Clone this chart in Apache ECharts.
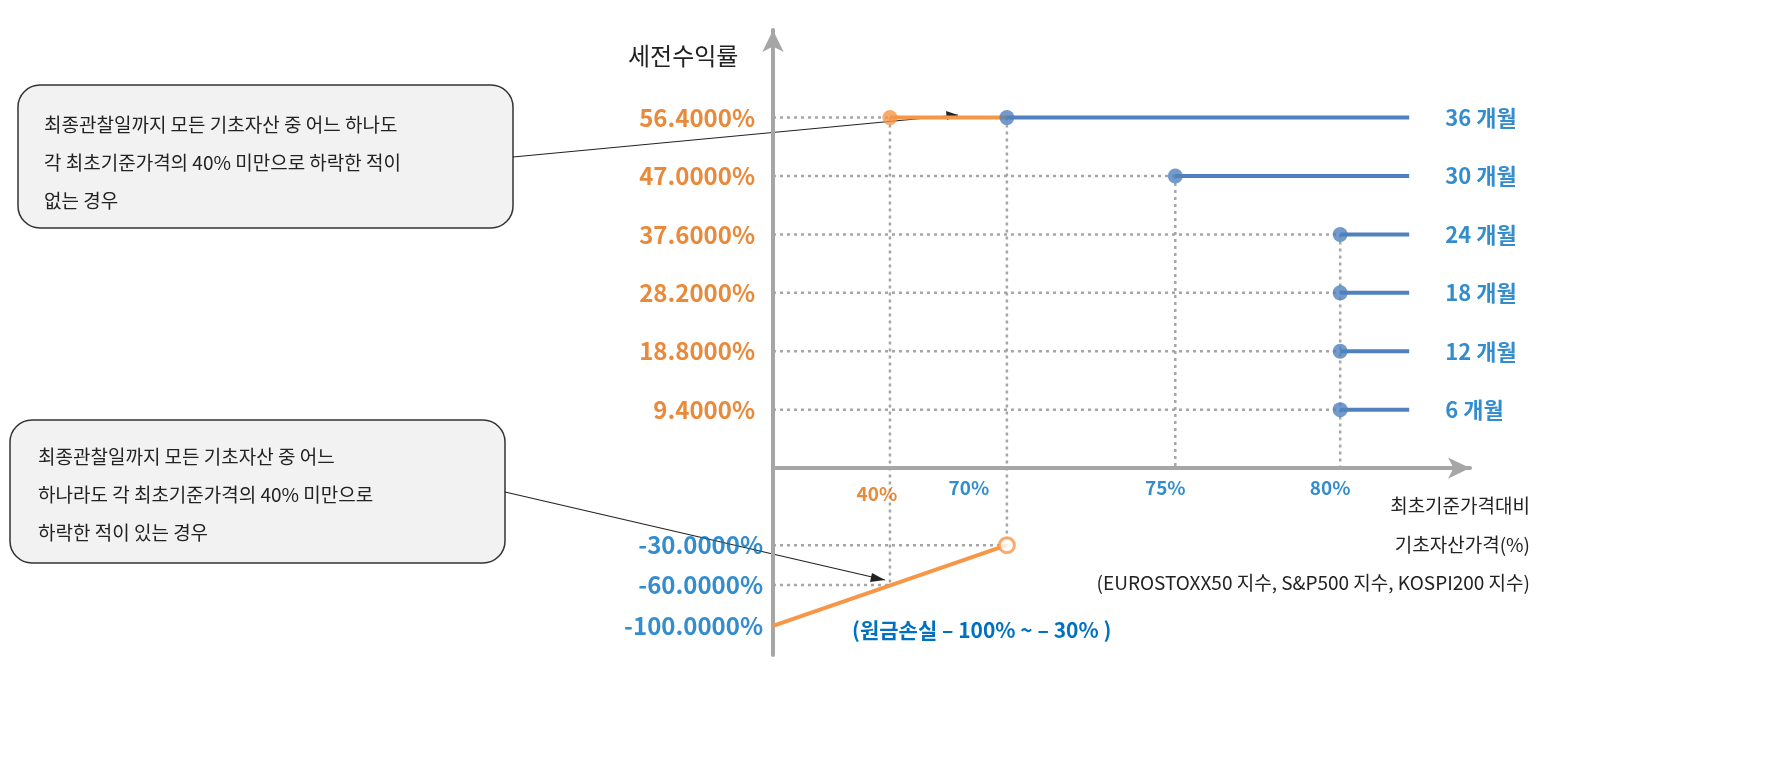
<!DOCTYPE html>
<html><head><meta charset="utf-8">
<script src="https://cdn.jsdelivr.net/npm/echarts@6/dist/echarts.min.js"></script>
<style>html,body{margin:0;background:#fff}#c{width:1774px;height:770px}</style>
</head><body><div id="c"></div>
<script>
const periods=['6 개월','12 개월','18 개월','24 개월','30 개월','36 개월'];
const returns=[9.4,18.8,28.2,37.6,47.0,56.4];
const barriers=['80%','80%','80%','80%','75%','70%'];
const xLabels=['40%','70%','75%','80%'];
const xLabelColors=['#E36C09','#0070C0','#0070C0','#0070C0'];
const xPos=[1,2,3.44,4.85];
const xEnd=5.44;
const lossValues=[-30,-60,-100];
const lossPos=[-1.32,-2.0,-2.7];
const ORANGE='#E36C09', ORANGE2='#F79646', BLUE='#4F81BD', TBLUE='#0070C0', GRAY='#a6a6a6';
const F='"Noto Sans CJK KR","Noto Sans",sans-serif';
const px=l=>xPos[xLabels.indexOf(l)];
const series=[];
const dotted=(data)=>({type:'line',data,symbol:'none',silent:true,lineStyle:{color:GRAY,width:2.5,type:[3,4]},z:1});
const drawnVert={};
returns.forEach((v,i)=>{
  const y=i+1, bx=px(barriers[i]);
  series.push(dotted([[0,y],[bx,y]]));
  if(barriers[i]!=='70%'){
    // one vertical dotted line per barrier, from its highest level down to the axis
    const top=Math.max(...returns.map((r,j)=>barriers[j]===barriers[i]?j+1:0));
    if(!drawnVert[barriers[i]]){drawnVert[barriers[i]]=1;series.push(dotted([[bx,top],[bx,0]]));}
  }
  series.push({type:'line',data:[[bx,y],[xEnd,y]],symbol:'none',lineStyle:{color:BLUE,width:4},z:3});
  series.push({type:'scatter',data:[[bx,y]],symbolSize:15,itemStyle:{color:BLUE},z:5});
  series.push({type:'scatter',data:[[xEnd,y]],symbolSize:0,z:6,label:{show:true,position:'right',distance:36,formatter:periods[i],color:TBLUE,fontSize:22,fontWeight:'bold',fontFamily:F}});
  series.push({type:'scatter',data:[[0,y]],symbolSize:0,z:6,label:{show:true,position:'left',distance:18,formatter:v.toFixed(4)+'%',color:ORANGE,fontSize:24,fontWeight:'bold',fontFamily:F}});
});
series.push(dotted([[px('40%'),6],[px('40%'),lossPos[1]]]));
series.push(dotted([[px('70%'),6],[px('70%'),lossPos[0]]]));
series.push(dotted([[0,lossPos[0]],[px('70%'),lossPos[0]]]));
series.push(dotted([[0,lossPos[1]],[px('40%'),lossPos[1]]]));
series.push({type:'line',data:[[px('40%'),6],[px('70%'),6]],symbol:'none',lineStyle:{color:ORANGE2,width:4},z:3});
series.push({type:'scatter',data:[[px('40%'),6]],symbolSize:15,itemStyle:{color:ORANGE2},z:5});
series.push({type:'line',data:[[0,lossPos[2]],[px('70%'),lossPos[0]]],symbol:'none',lineStyle:{color:ORANGE2,width:4},z:3});
series.push({type:'scatter',data:[[px('70%'),lossPos[0]]],symbol:'circle',symbolSize:15,itemStyle:{color:'#fff',borderColor:ORANGE2,borderWidth:3},z:5});
lossValues.forEach((v,i)=>{
  series.push({type:'scatter',data:[[0,lossPos[i]]],symbolSize:0,z:6,label:{show:true,position:'left',distance:10,formatter:v.toFixed(4)+'%',color:TBLUE,fontSize:24,fontWeight:'bold',fontFamily:F}});
});
xLabels.forEach((l,i)=>{
  series.push({type:'scatter',data:[[xPos[i],0]],symbolSize:0,z:6,label:{show:true,position:'bottom',distance:i===0?16:10,offset:[i===0?-13:(i===1?-38:-10),0],formatter:l,color:xLabelColors[i],fontSize:19,fontWeight:'bold',fontFamily:F}});
});
const chart=echarts.init(document.getElementById('c'));
chart.setOption({
  animation:false,
  grid:{left:773,right:304,top:30,height:625},
  xAxis:{type:'value',min:0,max:5.96,axisLine:{onZero:true,lineStyle:{color:GRAY,width:4},symbol:['none','arrow'],symbolSize:[16,22]},axisTick:{show:false},axisLabel:{show:false},splitLine:{show:false}},
  yAxis:{type:'value',min:-3.2,max:7.5,axisLine:{show:true,lineStyle:{color:GRAY,width:4},symbol:['none','arrow'],symbolSize:[16,22]},axisTick:{show:false},axisLabel:{show:false},splitLine:{show:false}},
  series,
  graphic:[
    {type:'text',left:628,top:44,style:{text:'세전수익률',font:'24px '+F,fill:'#222'}},
    {type:'text',right:244,top:496,style:{text:'최초기준가격대비',font:'19px '+F,fill:'#222',align:'right'}},
    {type:'text',right:244,top:535,style:{text:'기초자산가격(%)',font:'19px '+F,fill:'#222'}},
    {type:'text',right:244,top:573,style:{text:'(EUROSTOXX50 지수, S&P500 지수, KOSPI200 지수)',font:'19px '+F,fill:'#222'}},
    {type:'text',left:852,top:620,style:{text:'(원금손실 – 100% ~ – 30% )',font:'bold 21px '+F,fill:TBLUE}},
    {type:'rect',shape:{x:18,y:85,width:495,height:143,r:22},style:{fill:'#f2f2f2',stroke:'#333',lineWidth:1.5}},
    {type:'text',left:44,top:106,style:{text:'최종관찰일까지 모든 기초자산 중 어느 하나도\n각 최초기준가격의 40% 미만으로 하락한 적이\n없는 경우',font:'19px '+F,fill:'#222',lineHeight:38}},
    {type:'rect',shape:{x:10,y:420,width:495,height:143,r:22},style:{fill:'#f2f2f2',stroke:'#333',lineWidth:1.5}},
    {type:'text',left:38,top:438,style:{text:'최종관찰일까지 모든 기초자산 중 어느\n하나라도 각 최초기준가격의 40% 미만으로\n하락한 적이 있는 경우',font:'19px '+F,fill:'#222',lineHeight:38}},
    {type:'line',shape:{x1:513,y1:157,x2:958,y2:115},style:{stroke:'#222',lineWidth:1.2}},
    {type:'polygon',shape:{points:[[958,115],[946,111],[947,120]]},style:{fill:'#222'}},
    {type:'line',shape:{x1:505,y1:492,x2:885,y2:580},style:{stroke:'#222',lineWidth:1.2}},
    {type:'polygon',shape:{points:[[885,580],[872,573],[870,582]]},style:{fill:'#222'}}
  ]
});
</script></body></html>
